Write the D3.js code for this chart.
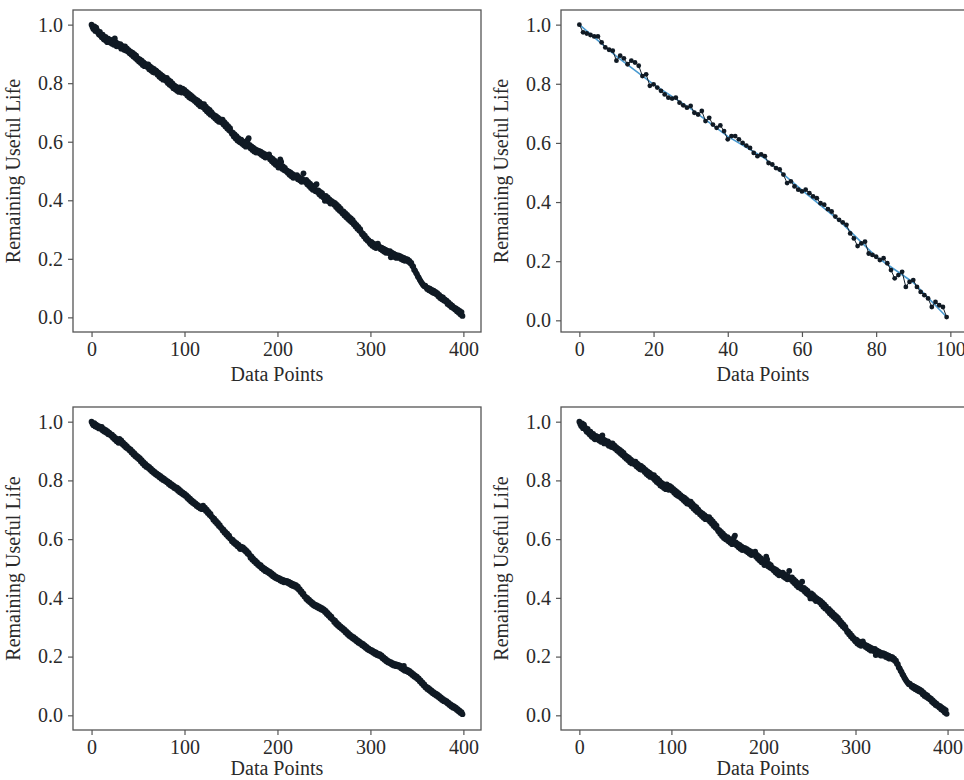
<!DOCTYPE html>
<html>
<head>
<meta charset="utf-8">
<script src="https://cdn.jsdelivr.net/npm/d3@7"></script>
<style>
  body { margin: 0; background: #fff; }
  svg { display: block; }
  text { font-family: "Liberation Serif", "Times New Roman", serif; fill: #2a2a2a; }
</style>
</head>
<body>
<svg id="chart" width="964" height="780"></svg>
<script>
// tick values
var yTicks = [0.0, 0.2, 0.4, 0.6, 0.8, 1.0];
var xTicksLong = [0, 100, 200, 300, 400];
var xTicksShort = [0, 20, 40, 60, 80, 100];

// unit A (top left and bottom right): predicted RUL, one value per data point
var predA = [
  1.000, 0.992, 0.985, 0.994, 0.978, 0.990, 0.981, 0.972, 0.966, 0.975,
  0.962, 0.957, 0.966, 0.951, 0.948, 0.958, 0.944, 0.940, 0.952, 0.946,
  0.939, 0.948, 0.935, 0.942, 0.931, 0.953, 0.940, 0.926, 0.936, 0.930,
  0.925, 0.933, 0.918, 0.927, 0.921, 0.914, 0.926, 0.912, 0.919, 0.908,
  0.913, 0.902, 0.908, 0.897, 0.904, 0.891, 0.899, 0.886, 0.894, 0.880,
  0.885, 0.874, 0.881, 0.869, 0.877, 0.862, 0.871, 0.858, 0.866, 0.861,
  0.855, 0.864, 0.848, 0.857, 0.843, 0.852, 0.838, 0.849, 0.836, 0.844,
  0.841, 0.829, 0.836, 0.822, 0.831, 0.817, 0.826, 0.812, 0.821, 0.815,
  0.808, 0.818, 0.801, 0.810, 0.795, 0.806, 0.790, 0.799, 0.783, 0.792,
  0.779, 0.788, 0.774, 0.783, 0.770, 0.786, 0.776, 0.768, 0.781, 0.773,
  0.777, 0.765, 0.771, 0.758, 0.766, 0.752, 0.761, 0.748, 0.756, 0.744,
  0.750, 0.739, 0.745, 0.733, 0.741, 0.727, 0.736, 0.721, 0.730, 0.724,
  0.718, 0.728, 0.711, 0.720, 0.704, 0.713, 0.698, 0.709, 0.692, 0.701,
  0.696, 0.685, 0.691, 0.679, 0.687, 0.673, 0.682, 0.668, 0.677, 0.670,
  0.666, 0.675, 0.659, 0.667, 0.652, 0.660, 0.645, 0.653, 0.639, 0.646,
  0.634, 0.627, 0.631, 0.618, 0.625, 0.611, 0.619, 0.604, 0.612, 0.600,
  0.598, 0.607, 0.593, 0.601, 0.588, 0.596, 0.583, 0.592, 0.606, 0.612,
  0.589, 0.578, 0.584, 0.572, 0.580, 0.567, 0.575, 0.563, 0.571, 0.566,
  0.569, 0.560, 0.566, 0.555, 0.562, 0.550, 0.558, 0.546, 0.554, 0.549,
  0.548, 0.557, 0.540, 0.546, 0.533, 0.541, 0.527, 0.535, 0.521, 0.529,
  0.520, 0.512, 0.526, 0.540, 0.531, 0.508, 0.516, 0.503, 0.511, 0.500,
  0.502, 0.494, 0.499, 0.487, 0.495, 0.482, 0.490, 0.477, 0.486, 0.480,
  0.478, 0.486, 0.472, 0.480, 0.468, 0.476, 0.463, 0.471, 0.492, 0.466,
  0.462, 0.470, 0.455, 0.463, 0.449, 0.457, 0.442, 0.451, 0.436, 0.445,
  0.440, 0.431, 0.455, 0.428, 0.434, 0.421, 0.429, 0.415, 0.424, 0.411,
  0.409, 0.398, 0.415, 0.404, 0.410, 0.396, 0.403, 0.389, 0.398, 0.392,
  0.394, 0.385, 0.390, 0.377, 0.384, 0.370, 0.378, 0.364, 0.371, 0.360,
  0.355, 0.362, 0.348, 0.356, 0.342, 0.350, 0.336, 0.343, 0.330, 0.338,
  0.325, 0.332, 0.318, 0.323, 0.310, 0.316, 0.303, 0.309, 0.297, 0.301,
  0.291, 0.284, 0.286, 0.276, 0.279, 0.268, 0.271, 0.262, 0.264, 0.256,
  0.251, 0.258, 0.245, 0.253, 0.240, 0.249, 0.237, 0.246, 0.252, 0.243,
  0.240, 0.233, 0.238, 0.228, 0.235, 0.224, 0.231, 0.220, 0.228, 0.223,
  0.219, 0.226, 0.205, 0.221, 0.212, 0.218, 0.206, 0.214, 0.203, 0.210,
  0.212, 0.204, 0.209, 0.199, 0.206, 0.196, 0.203, 0.193, 0.200, 0.195,
  0.198, 0.190, 0.193, 0.185, 0.186, 0.176, 0.174, 0.163, 0.160, 0.152,
  0.148, 0.140, 0.136, 0.129, 0.124, 0.119, 0.114, 0.110, 0.106, 0.108,
  0.103, 0.097, 0.101, 0.093, 0.098, 0.089, 0.094, 0.085, 0.091, 0.082,
  0.087, 0.079, 0.083, 0.072, 0.077, 0.066, 0.071, 0.062, 0.068, 0.058,
  0.061, 0.054, 0.057, 0.046, 0.051, 0.041, 0.045, 0.035, 0.040, 0.032,
  0.034, 0.027, 0.031, 0.021, 0.026, 0.016, 0.022, 0.010, 0.018, 0.005
];
// unit A: actual RUL curve (read every 10 points)
var actualAX = [0, 10, 20, 30, 40, 50, 60, 70, 80, 90, 100, 110, 120, 130, 140, 150, 160, 170, 180, 190,
  200, 210, 220, 230, 240, 250, 260, 270, 280, 290, 300, 310, 320, 330, 340, 350, 360, 370, 380, 390, 399];
var actualA = [0.997, 0.968, 0.945, 0.928, 0.911, 0.882, 0.860, 0.839, 0.814, 0.785, 0.774, 0.747, 0.722,
  0.694, 0.671, 0.637, 0.602, 0.585, 0.568, 0.551, 0.522, 0.505, 0.482, 0.465, 0.437, 0.414, 0.391,
  0.357, 0.328, 0.294, 0.254, 0.242, 0.225, 0.208, 0.197, 0.151, 0.105, 0.085, 0.059, 0.031, 0.014];

// unit B (top right)
var predB = [
  1.000, 0.974, 0.970, 0.965, 0.960, 0.960, 0.940, 0.923, 0.915, 0.912,
  0.878, 0.895, 0.886, 0.866, 0.878, 0.872, 0.861, 0.826, 0.832, 0.793,
  0.798, 0.787, 0.776, 0.764, 0.753, 0.750, 0.753, 0.736, 0.727, 0.719,
  0.725, 0.702, 0.696, 0.708, 0.674, 0.685, 0.662, 0.651, 0.659, 0.640,
  0.612, 0.623, 0.623, 0.612, 0.600, 0.591, 0.583, 0.566, 0.555, 0.561,
  0.555, 0.532, 0.527, 0.515, 0.510, 0.493, 0.464, 0.470, 0.453, 0.442,
  0.436, 0.442, 0.430, 0.419, 0.413, 0.396, 0.391, 0.376, 0.368, 0.351,
  0.340, 0.331, 0.323, 0.294, 0.277, 0.251, 0.260, 0.266, 0.226, 0.221,
  0.215, 0.204, 0.210, 0.193, 0.170, 0.142, 0.153, 0.164, 0.113, 0.130,
  0.136, 0.113, 0.096, 0.085, 0.074, 0.045, 0.062, 0.051, 0.045, 0.011
];
var actualBX = [0, 10, 20, 30, 40, 50, 60, 70, 80, 90, 99];
var actualB = [1.0, 0.893, 0.798, 0.716, 0.622, 0.548, 0.440, 0.338, 0.215, 0.128, 0.011];

// unit C (bottom left)
var predC = [
  1.000, 0.993, 0.988, 0.995, 0.984, 0.990, 0.981, 0.986, 0.977, 0.983,
  0.976, 0.982, 0.970, 0.975, 0.966, 0.972, 0.962, 0.968, 0.957, 0.963,
  0.958, 0.952, 0.956, 0.945, 0.950, 0.939, 0.944, 0.933, 0.939, 0.928,
  0.941, 0.930, 0.936, 0.924, 0.929, 0.918, 0.923, 0.912, 0.917, 0.908,
  0.910, 0.902, 0.906, 0.895, 0.899, 0.888, 0.893, 0.882, 0.886, 0.877,
  0.881, 0.872, 0.876, 0.864, 0.869, 0.858, 0.862, 0.851, 0.856, 0.846,
  0.850, 0.842, 0.846, 0.836, 0.840, 0.830, 0.834, 0.825, 0.829, 0.820,
  0.824, 0.816, 0.820, 0.811, 0.815, 0.806, 0.810, 0.801, 0.806, 0.798,
  0.801, 0.794, 0.797, 0.788, 0.792, 0.783, 0.787, 0.779, 0.783, 0.774,
  0.778, 0.771, 0.775, 0.765, 0.770, 0.760, 0.764, 0.755, 0.759, 0.751,
  0.755, 0.747, 0.750, 0.740, 0.744, 0.734, 0.738, 0.728, 0.732, 0.723,
  0.727, 0.719, 0.722, 0.713, 0.717, 0.708, 0.712, 0.704, 0.709, 0.702,
  0.714, 0.703, 0.707, 0.696, 0.700, 0.689, 0.693, 0.682, 0.686, 0.676,
  0.675, 0.666, 0.670, 0.659, 0.662, 0.652, 0.655, 0.645, 0.648, 0.639,
  0.638, 0.629, 0.632, 0.622, 0.625, 0.615, 0.619, 0.608, 0.612, 0.602,
  0.601, 0.593, 0.597, 0.587, 0.591, 0.582, 0.586, 0.576, 0.581, 0.571,
  0.566, 0.574, 0.568, 0.572, 0.563, 0.566, 0.557, 0.560, 0.550, 0.553,
  0.546, 0.537, 0.541, 0.530, 0.534, 0.524, 0.528, 0.518, 0.522, 0.512,
  0.515, 0.507, 0.511, 0.501, 0.505, 0.496, 0.500, 0.491, 0.496, 0.488,
  0.492, 0.484, 0.488, 0.479, 0.483, 0.474, 0.478, 0.469, 0.473, 0.466,
  0.470, 0.463, 0.467, 0.459, 0.464, 0.456, 0.461, 0.453, 0.459, 0.455,
  0.458, 0.451, 0.455, 0.447, 0.452, 0.443, 0.448, 0.440, 0.446, 0.438,
  0.443, 0.434, 0.438, 0.428, 0.430, 0.420, 0.422, 0.412, 0.414, 0.405,
  0.404, 0.396, 0.400, 0.390, 0.394, 0.385, 0.388, 0.379, 0.383, 0.374,
  0.378, 0.371, 0.375, 0.367, 0.372, 0.364, 0.368, 0.360, 0.365, 0.358,
  0.361, 0.352, 0.356, 0.345, 0.349, 0.339, 0.342, 0.332, 0.336, 0.327,
  0.327, 0.318, 0.322, 0.311, 0.315, 0.305, 0.309, 0.300, 0.303, 0.295,
  0.298, 0.290, 0.293, 0.283, 0.287, 0.277, 0.281, 0.271, 0.275, 0.267,
  0.270, 0.262, 0.266, 0.257, 0.261, 0.252, 0.256, 0.247, 0.252, 0.244,
  0.247, 0.239, 0.243, 0.234, 0.238, 0.229, 0.233, 0.224, 0.228, 0.221,
  0.224, 0.217, 0.221, 0.213, 0.217, 0.209, 0.214, 0.205, 0.210, 0.203,
  0.208, 0.200, 0.204, 0.194, 0.198, 0.189, 0.193, 0.184, 0.188, 0.180,
  0.184, 0.177, 0.181, 0.173, 0.178, 0.170, 0.175, 0.168, 0.173, 0.167,
  0.172, 0.165, 0.169, 0.160, 0.164, 0.156, 0.168, 0.152, 0.157, 0.150,
  0.155, 0.147, 0.151, 0.142, 0.146, 0.137, 0.141, 0.132, 0.136, 0.128,
  0.132, 0.123, 0.126, 0.116, 0.119, 0.109, 0.112, 0.102, 0.105, 0.096,
  0.098, 0.090, 0.094, 0.085, 0.089, 0.080, 0.084, 0.075, 0.079, 0.071,
  0.075, 0.067, 0.071, 0.062, 0.066, 0.057, 0.061, 0.052, 0.056, 0.048,
  0.052, 0.045, 0.048, 0.040, 0.043, 0.035, 0.038, 0.030, 0.034, 0.026,
  0.030, 0.023, 0.026, 0.018, 0.021, 0.013, 0.016, 0.008, 0.011, 0.004
];
var actualCX = [0, 10, 20, 30, 40, 50, 60, 70, 80, 90, 100, 110, 120, 130, 140, 150, 160, 170, 180, 190,
  200, 210, 220, 230, 240, 250, 260, 270, 280, 290, 300, 310, 320, 330, 340, 350, 360, 370, 380, 390, 399];
var actualC = [0.997, 0.979, 0.960, 0.934, 0.911, 0.880, 0.849, 0.823, 0.800, 0.777, 0.754, 0.726, 0.705,
  0.674, 0.637, 0.600, 0.577, 0.545, 0.514, 0.491, 0.469, 0.457, 0.440, 0.403, 0.377, 0.360, 0.326,
  0.297, 0.269, 0.246, 0.223, 0.206, 0.183, 0.171, 0.154, 0.131, 0.097, 0.074, 0.051, 0.029, 0.008];

var panels = [
  {left: 73,  top: 10,  width: 408, height: 322, pred: predA, ax: actualAX, ay: actualA, xdom: [-19.95, 418.95], ydom: [-0.05, 1.05], xticks: xTicksLong, r: 2.9, labelDy: 49},
  {left: 561, top: 10,  width: 404, height: 322, pred: predB, ax: actualBX, ay: actualB, xdom: [-4.95, 103.95], ydom: [-0.0395, 1.0495], xticks: xTicksShort, r: 2.4, labelDy: 49},
  {left: 73,  top: 407, width: 408, height: 323, pred: predC, ax: actualCX, ay: actualC, xdom: [-19.95, 418.95], ydom: [-0.05, 1.05], xticks: xTicksLong, r: 2.9, labelDy: 45},
  {left: 561, top: 407, width: 404, height: 323, pred: predA, ax: actualAX, ay: actualA, xdom: [-19.95, 418.95], ydom: [-0.05, 1.05], xticks: xTicksLong, r: 2.9, labelDy: 45}
];

var svg = d3.select("#chart");

panels.forEach(function (p) {
  var g = svg.append("g").attr("transform", "translate(" + p.left + "," + p.top + ")");

  var x = d3.scaleLinear().domain(p.xdom).range([0, p.width]);
  var y = d3.scaleLinear().domain(p.ydom).range([p.height, 0]);

  var xAxis = d3.axisBottom(x).tickValues(p.xticks).tickSize(5).tickPadding(5).tickFormat(d3.format("d"));
  var yAxis = d3.axisLeft(y).tickValues(yTicks).tickSize(5).tickPadding(5).tickFormat(d3.format(".1f"));

  var gx = g.append("g").attr("transform", "translate(0," + p.height + ")").call(xAxis);
  var gy = g.append("g").call(yAxis);
  [gx, gy].forEach(function (a) {
    a.attr("font-family", null);
    a.select(".domain").remove();
    a.selectAll(".tick line").attr("stroke", "#555").attr("stroke-width", 1.2);
    a.selectAll(".tick text").attr("font-size", 20).attr("fill", "#2a2a2a")
      .style("font-family", "'Liberation Serif', serif");
  });

  // actual RUL
  var line = d3.line()
    .x(function (d, i) { return x(p.ax[i]); })
    .y(function (d) { return y(d); });
  g.append("path")
    .attr("d", line(p.ay))
    .attr("fill", "none")
    .attr("stroke", "#4a9bd1")
    .attr("stroke-width", 1.6);

  // predicted RUL
  var predLine = d3.line()
    .x(function (d, i) { return x(i); })
    .y(function (d) { return y(d); });
  g.append("path")
    .attr("d", predLine(p.pred))
    .attr("fill", "none")
    .attr("stroke", "#14202c")
    .attr("stroke-width", 1);

  g.selectAll("circle")
    .data(p.pred)
    .enter().append("circle")
    .attr("cx", function (d, i) { return x(i); })
    .attr("cy", function (d) { return y(d); })
    .attr("r", p.r)
    .attr("fill", "#101a24");

  // frame
  g.append("rect")
    .attr("width", p.width).attr("height", p.height)
    .attr("fill", "none").attr("stroke", "#555").attr("stroke-width", 1.3);

  g.append("text")
    .attr("x", p.width / 2).attr("y", p.height + p.labelDy)
    .attr("text-anchor", "middle").attr("font-size", 20)
    .text("Data Points");

  g.append("text")
    .attr("transform", "translate(-53," + (p.height / 2) + ") rotate(-90)")
    .attr("text-anchor", "middle").attr("font-size", 20)
    .text("Remaining Useful Life");
});
</script>
</body>
</html>
